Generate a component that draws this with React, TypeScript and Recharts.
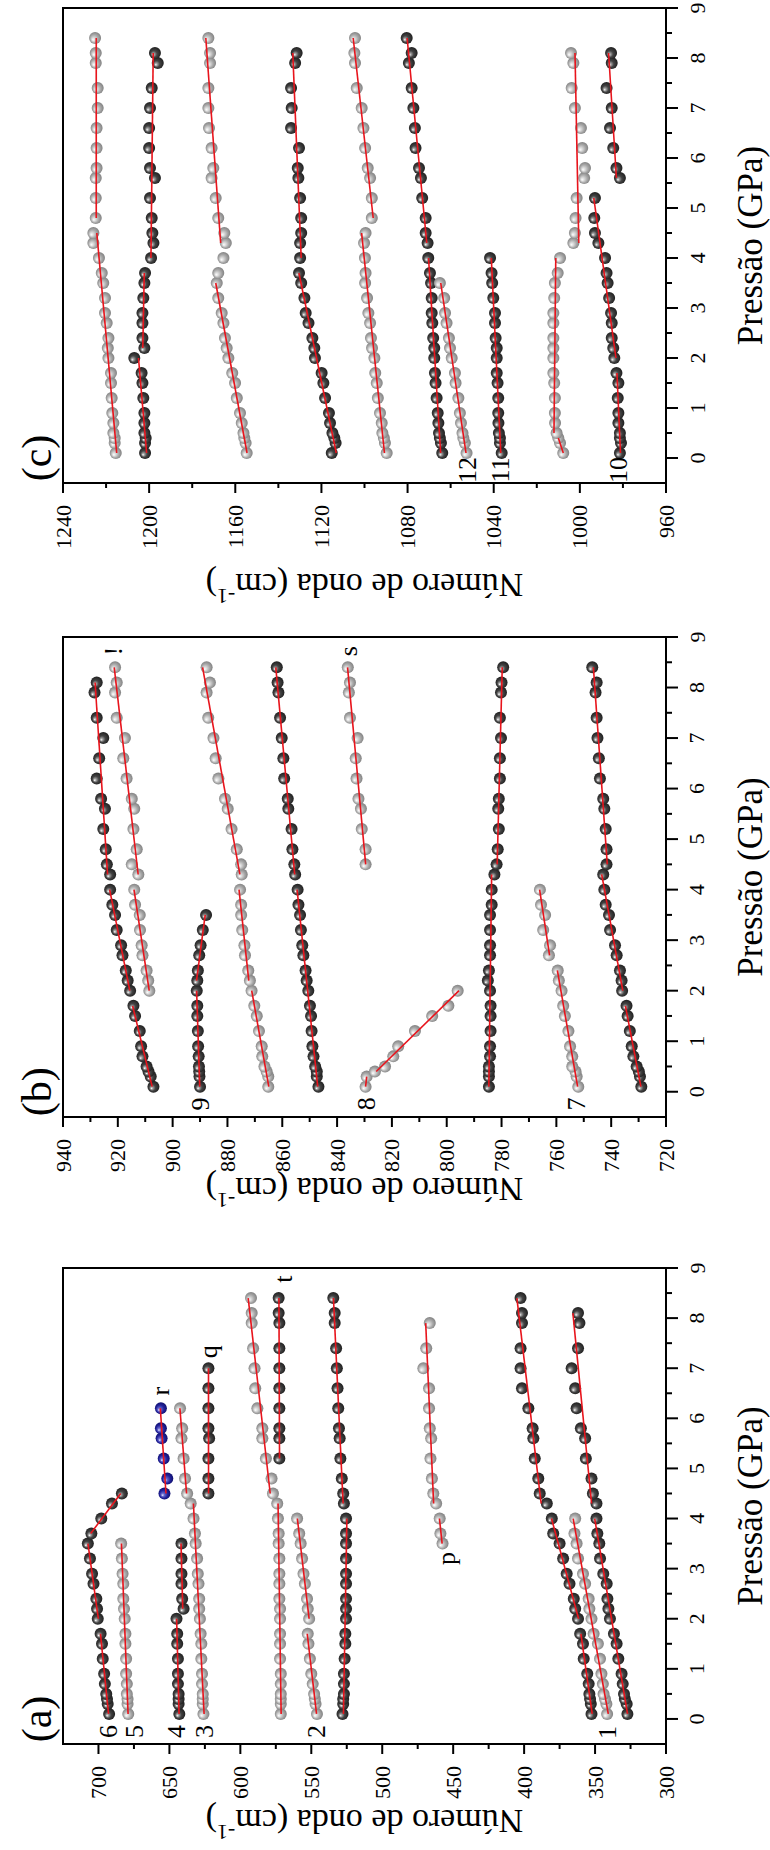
import React from "react";
import { ScatterChart, Scatter, XAxis, YAxis, ReferenceArea } from "recharts";

// pressure steps of the run (GPa), shared by every mode
const P = [0.1, 0.3, 0.4, 0.5, 0.7, 0.9, 1.2, 1.5, 1.7, 2.0, 2.2, 2.4, 2.7, 2.9, 3.2, 3.5, 3.7, 4.0, 4.3, 4.5, 4.8, 5.2, 5.6, 5.8, 6.2, 6.6, 7.0, 7.4, 7.9, 8.1, 8.4];

// ---- panel (a) wavenumbers, cm-1
const a6lo = [692.5, 693.5, 694, 694.5, 695.5, 696, 697, 697.5, 698.5];
const a6mid = [700.5, 701, 701.5, 703.5, 704.5, 706, 707.5];
const a6hi = [705, 698, 690.5, 683.5];
const a5 = [679, 679.5, 679.5, 680, 680, 680.5, 680.5, 681, 681, 681.5, 682, 682.5, 682.5, 683, 683.5, 684];
const a4lo = [643, 643.5, 643.5, 643.5, 644, 644, 644, 644.5, 644.5, 645];
const a4hi = [640, 641, 641.5, 641.5, 641.5, 641.5];
const a3lo = [626, 626.5, 626.5, 626.5, 627, 627, 627.5, 627.5, 628, 628.5, 629, 629, 629.5, 630, 630.5, 631.5, 632, 633, 635];
const a3hi = [637.5, 639, 640, 641.5, 641, 642.5];
const ar = [653.5, 651.5, 654, 655.5, 656, 656];
const aq = [622.5, 622.5, 622.5, 622, 622.5, 622.5, 622.5, 622.5];
const a575lo = [571.5, 571.5, 571.5, 571.5, 571.5, 571.5, 572, 572, 572, 572, 572, 572.5, 572.5, 572.5, 572.5, 573, 573, 573.5, 574];
const a575hi = [577, 578, 582, 584.5, 584.5, 588, 589.5, 590, 591, 592, 592, 592.5];
const at = [572.5, 572.5, 572.5, 572.5, 572.5, 572.5, 572.5, 572.5, 573, 573];
const a527lo = [528, 527.5, 527.5, 527, 527, 527, 526.5, 526, 526, 525.5, 525.5, 525.5, 525.5, 525.5, 525.5, 525.5, 525.5, 525.5];
const a527hi = [527, 527.5, 528.5, 529.5, 530, 530.5, 531, 531.5, 532, 532.5, 533.5, 533.5, 534.5];
const a2lo = [546, 547, 547.5, 548, 549, 550, 551, 552, 552.5];
const a2hi = [551.5, 552.5, 553, 554.5, 555.5, 556.5, 557.5, 558.5, 560];
const aplo = [457.5, 459, 459.5];
const aphi = [462, 464, 465, 466, 465.5, 466.5, 467, 467, 471, 469, 466.5];
const a400hi = [384, 389, 390, 392.5, 393.5, 394, 397, 401.5, 402.5, 402.5, 401.5, 401.5, 402.5];
const a360lo1 = [352.5, 353, 353.5, 354, 354.5, 355.5, 358, 358.5, 360.5];
const a360lo2 = [362, 364, 365, 368, 370, 372.5, 375, 379.5, 380.5];
const a345 = [341.5, 342, 343, 344, 344.5, 345.5, 346.5, 348, 351, 352.5, 354, 354.5, 357, 358.5, 362, 363, 364.5, 364];
const a330lo = [327.2, 327.7, 329, 329.6, 330.5, 331.3, 333.6, 334.8, 336.7, 339.5, 340.6, 341.3, 341.8, 344.2, 346.5, 347, 348.4, 349];
const a330hi = [349, 351.5, 352.5, 356.5, 357, 360, 363, 364, 366.5, 362, 361, 362];

// ---- panel (b)
const b907lo = [907, 908, 908.8, 909.5, 911, 911.5, 912, 913.7, 914.3];
const b907mid = [915.5, 916.4, 917.1, 918.3, 918.8, 920.4, 921, 922, 922.8];
const b907hi = [922.8, 924, 924.4, 925.3, 924.7, 926.1, 927.7, 926.8, 925.3, 927.7, 928.5, 927.7];
const b912lo = [908.5, 908.9, 909.5, 911, 911.3, 911.9, 912, 913.7, 914];
const b912hi = [912.5, 914.9, 913.1, 914.3, 914, 914.9, 916.8, 918, 917.4, 920.4, 921, 920.4, 921];
const b890lo = [890, 890.2, 890.3, 890.4, 890.5, 890.7, 890.8, 891, 891, 891.2];
const b890hi = [891, 890.8, 890.3, 889.8, 889, 887.8];
const b865lo = [865.1, 865.1, 865.7, 866.5, 867.3, 867.5, 868.5, 869.3, 870.2, 871.2];
const b865mid = [871.8, 872.4, 873.6, 873.8, 874.6, 875, 875, 875.4];
const b865hi = [874.8, 875, 876.6, 878.5, 879.9, 880.9, 883.3, 884.3, 885.1, 887, 887.6, 886.4, 887.6];
const b846lo = [846.8, 847.4, 847.4, 848, 848.6, 849, 849.3, 849.5, 849.9, 850.5, 851.1, 851.5, 852.3, 852.7, 853.2, 853.5, 854.1, 854.4];
const b846hi = [855.3, 855.6, 856.3, 856.6, 857.8, 858, 859.3, 859.6, 860.2, 860.8, 861.4, 861.7, 862];
const bs = [829.6, 829.6, 831, 831.3, 832.2, 832.9, 833.2, 832.5, 835.3, 835.7, 835.3, 836.1];
const b8a = [829.6, 829.2];
const b8b = [826.2, 822.5, 819.5, 817.7, 811.6, 805.3, 799.4, 796];
const b782lo = [784.6, 784.6, 784.6, 784.6, 784.2, 784.2, 784, 784, 784, 784.2, 785, 784.6, 784.2, 784.2, 784.2, 784.2, 783.6, 783.6, 782.6];
const b782hi = [781.8, 781.4, 781, 781.2, 781, 780.6, 780.6, 780.2, 780.6, 780.2, 780, 779.4];
const b7lo = [752, 752.6, 753, 754.2, 754.2, 755, 755.6, 756.9, 757.5, 758.1, 759.1, 759.5];
const b7hi = [762.7, 762.3, 764.8, 764.1, 765.6, 766];
const b729lo = [729, 729.5, 729.9, 730.7, 731.9, 732.5, 733.2, 734, 734.4];
const b729mid = [736, 736.2, 736.8, 738, 738.6, 740.4, 740.8, 742, 742.5, 742.9];
const b729hi = [741.7, 741.7, 742, 742.5, 742.9, 744.1, 744.5, 745, 745.3, 745.7, 745.3, 746.9];

// ---- panel (c)
const c1215lo = [1215.5, 1216, 1216, 1216.6, 1216.6, 1217.1, 1217.4, 1217.7, 1217.7, 1218.9, 1219.2, 1218.9, 1219.7, 1220.5, 1220.5, 1221.3, 1222, 1223.3, 1225.9, 1225.9];
const c1215hi = [1224.8, 1224.8, 1224.8, 1224.4, 1224.4, 1224.4, 1223.9, 1223.9, 1224.8, 1224.8, 1225.1];
const c1200a = [1201.9, 1201.9, 1201.6, 1202.2, 1202.2, 1202.2, 1202.7, 1203.1, 1203.5, 1206.9];
const c1200b = [1202.2, 1203.1, 1203.1, 1203.1, 1202.7, 1202.2, 1201.9];
const c1200c = [1199.1, 1198, 1198.5, 1198.8, 1199.6, 1197.3, 1199.6, 1200, 1200, 1199.6, 1198.8, 1196, 1197.3];
const c1160lo = [1154.7, 1155.2, 1155.8, 1156.2, 1157, 1157.8, 1159.3, 1160.1, 1161.4, 1163.2, 1164, 1164.8, 1165.5, 1166.3, 1167.9, 1168.6];
const c1160x = [1167.9, 1165.5];
const c1160hi = [1164.4, 1165.1, 1167.9, 1169.1, 1171, 1170.2, 1171, 1172.2, 1172.5, 1172.5, 1171.7, 1171.7, 1172.5];
const c1115lo = [1115.2, 1113.4, 1114, 1114.9, 1116, 1116.5, 1118.3, 1119.1, 1119.9, 1123, 1123.3, 1124.2, 1126, 1127.3, 1127.9, 1129.4, 1130.4];
const c1115hi = [1129.9, 1129.9, 1129.4, 1129.4, 1129.9, 1130.7, 1131, 1130.4, 1134.1, 1133.8, 1134.1, 1132.2, 1131.5];
const c1090lo = [1089.7, 1090.5, 1091, 1091.7, 1092, 1092.8, 1093.8, 1094.3, 1095, 1095.4, 1096.5, 1097, 1097.4, 1098.2, 1098.8, 1099.7, 1099.5, 1099.8, 1100.2, 1099.5];
const c1090hi = [1096.6, 1096.6, 1097.4, 1098.5, 1099.7, 1100.5, 1101.3, 1103.6, 1104.4, 1104.7, 1104.4];
const c1070lo = [1063.9, 1064.5, 1065, 1065.4, 1065.7, 1066, 1066.5, 1067, 1067.3, 1067.6, 1067.6, 1068.1, 1068.5, 1068.8, 1068.8, 1069.1, 1069.6, 1070.4];
const c1070hi = [1070.7, 1071.6, 1071.6, 1073.2, 1073.8, 1074.7, 1076.3, 1076.6, 1077.3, 1078.1, 1079.4, 1078.1, 1080.4];
const c12 = [1052.6, 1053.4, 1054.1, 1054.5, 1055.2, 1055.7, 1056.4, 1057.7, 1058, 1059.5, 1060.3, 1060.8, 1061.9, 1062.6, 1063, 1065];
const c11 = [1036.3, 1037.1, 1037.1, 1037.6, 1037.8, 1037.9, 1037.9, 1038.2, 1038.6, 1038.6, 1038.6, 1039.1, 1039.4, 1039.4, 1040.2, 1040.7, 1041, 1041.7];
const c1008a = [1007.7, 1009.2, 1010];
const c1008b = [1010.8, 1011.5, 1011.6, 1011.6, 1011.9, 1012.3, 1012.3, 1012.3, 1012.3, 1012.3, 1012.3, 1011.9, 1011.6, 1010.3, 1009.2];
const c1000 = [1003, 1002.3, 1002, 1001.5, 998, 997.6, 998.9, 999.5, 1002.3, 1003.8, 1003, 1004.1];
const c10lo = [981.4, 980.9, 981.4, 981.4, 982.1, 982.1, 982.4, 982.1, 983];
const c10mid = [984, 984.5, 985.2, 985.2, 985.5, 986.4, 987.1, 987.6, 988.3, 991.4, 993, 993.3, 993];
const c10hi = [981.4, 983, 984.5, 986, 985.2, 987.6, 985.2, 985.5];

// mode labels: text, wavenumber, pressure
const notesA = [["6", 693, -0.25], ["5", 674.5, -0.25], ["4", 645, -0.25], ["3", 625, -0.25], ["2", 546, -0.25], ["1", 341, -0.27], ["p", 454.5, 3.2], ["q", 622.5, 7.33], ["r", 656.5, 6.54], ["t", 569.5, 8.78]];
const notesB = [["9", 890, -0.24], ["8", 829.2, -0.24], ["7", 752.5, -0.24], ["s", 835.8, 8.72], ["!", 921.6, 8.72]];
const notesC = [["12", 1052, -0.24], ["11", 1037, -0.24], ["10", 982, -0.24]];

type Tone = "dark" | "light" | "blue";
type Seg = [number, number[], Tone, boolean?];

const segsA: Seg[] = [
  [0, a6lo, "dark"], [9, a6mid, "dark"], [16, a6hi, "dark"], [0, a5, "light"],
  [0, a4lo, "dark"], [10, a4hi, "dark"], [0, a3lo, "light"], [19, a3hi, "light"],
  [19, ar, "blue"], [19, aq, "dark"], [0, a575lo, "light"], [19, a575hi, "light"],
  [21, at, "dark"], [0, a527lo, "dark"], [18, a527hi, "dark"], [0, a2lo, "light"],
  [9, a2hi, "light"], [15, aplo, "light"], [18, aphi, "light"], [18, a400hi, "dark"],
  [0, a360lo1, "dark"], [9, a360lo2, "dark"], [0, a345, "light"], [0, a330lo, "dark"], [18, a330hi, "dark"],
];
const segsB: Seg[] = [
  [0, b907lo, "dark"], [9, b907mid, "dark"], [18, b907hi, "dark"], [9, b912lo, "light"], [18, b912hi, "light"],
  [0, b890lo, "dark"], [10, b890hi, "dark"], [0, b865lo, "light"], [10, b865mid, "light"], [18, b865hi, "light"],
  [0, b846lo, "dark"], [18, b846hi, "dark"], [19, bs, "light"], [0, b8a, "light"], [2, b8b, "light"],
  [0, b782lo, "dark"], [19, b782hi, "dark"], [0, b7lo, "light"], [12, b7hi, "light"],
  [0, b729lo, "dark"], [9, b729mid, "dark"], [19, b729hi, "dark"],
];
const segsC: Seg[] = [
  [0, c1215lo, "light"], [20, c1215hi, "light"], [0, c1200a, "dark"], [10, c1200b, "dark"], [17, c1200c, "dark"],
  [0, c1160lo, "light"], [16, c1160x, "light", false], [18, c1160hi, "light"], [0, c1115lo, "dark"], [17, c1115hi, "dark"],
  [0, c1090lo, "light"], [20, c1090hi, "light"], [0, c1070lo, "dark"], [18, c1070hi, "dark"], [0, c12, "light"],
  [0, c11, "dark"], [0, c1008a, "light"], [3, c1008b, "light"], [18, c1000, "light"],
  [0, c10lo, "dark"], [9, c10mid, "dark"], [22, c10hi, "dark"],
];

const FONT = "'Liberation Serif', 'Times New Roman', serif";
const LEFT = 63;
const RIGHT = 666;
const P_TICKS = [0, 0.5, 1, 1.5, 2, 2.5, 3, 3.5, 4, 4.5, 5, 5.5, 6, 6.5, 7, 7.5, 8, 8.5, 9];

const toPoints = (s: Seg) => s[1].map((w, i) => ({ p: P[s[0] + i], w }));

// least-squares straight line through one segment, drawn over its pressure span
const fitEnds = (pts: { p: number; w: number }[]) => {
  const n = pts.length;
  const mp = pts.reduce((a, d) => a + d.p, 0) / n;
  const mw = pts.reduce((a, d) => a + d.w, 0) / n;
  let sxy = 0, sxx = 0;
  pts.forEach((d) => { sxy += (d.p - mp) * (d.w - mw); sxx += (d.p - mp) ** 2; });
  const b = sxx ? sxy / sxx : 0;
  const p0 = pts[0].p, p1 = pts[n - 1].p;
  return [{ p: p0, w: mw + b * (p0 - mp) }, { p: p1, w: mw + b * (p1 - mp) }];
};

const Sphere = (props: any) => {
  const { cx, cy, tone } = props;
  if (cx == null || cy == null) return <g />;
  return <circle cx={cx} cy={cy} r={6} fill={`url(#sph-${tone})`} />;
};

const Note = (props: any) => {
  const { cx, cy, payload } = props;
  if (cx == null || cy == null) return <g />;
  return (
    <text x={cx} y={cy} transform={`rotate(-90 ${cx} ${cy})`} textAnchor="middle" dominantBaseline="central"
      fontSize={26} fontFamily={FONT} fill="#000">
      {payload.t}
    </text>
  );
};

interface PanelProps {
  top: number;
  height: number;
  mt: number;
  xh: number;
  titleOff: number;
  domain: [number, number];
  majors: number[];
  minors: number[];
  segs: Seg[];
  notes: (string | number)[][];
  letter: string;
}

const Panel: React.FC<PanelProps> = ({ top, height, mt, xh, titleOff, domain, majors, minors, segs, notes, letter }) => {
  const bottom = height - xh;
  const plotH = bottom - mt;
  const yZero = mt + (9 / 9.5) * plotH;
  const noteData = notes.map((n) => ({ t: n[0], w: n[1], p: n[2] }));

  const xTick = (props: any) => {
    const v = props.payload.value;
    const x = typeof props.payload.coordinate === "number" ? props.payload.coordinate : props.x;
    const major = majors.includes(v);
    const ty = bottom + 22;
    return (
      <g>
        <line x1={x} x2={x} y1={bottom} y2={bottom + (major ? 10 : 5)} stroke="#000" strokeWidth={2} />
        {major && (
          <text x={x} y={ty} transform={`rotate(-90 ${x} ${ty})`} textAnchor="end" dominantBaseline="central"
            fontSize={22} fontFamily={FONT} fill="#000">
            {v}
          </text>
        )}
      </g>
    );
  };

  const yTick = (props: any) => {
    const v = props.payload.value;
    const y = typeof props.payload.coordinate === "number" ? props.payload.coordinate : props.y;
    const major = Math.abs(v - Math.round(v)) < 1e-6;
    const tx = RIGHT + 31;
    return (
      <g>
        <line x1={RIGHT} x2={RIGHT + (major ? 12 : 6)} y1={y} y2={y} stroke="#000" strokeWidth={2} />
        {major && (
          <text x={tx} y={y} transform={`rotate(-90 ${tx} ${y})`} textAnchor="middle" dominantBaseline="central"
            fontSize={22} fontFamily={FONT} fill="#000">
            {v}
          </text>
        )}
      </g>
    );
  };

  const cxT = (LEFT + RIGHT) / 2;
  const cyT = bottom + titleOff;
  const xLabel = () => (
    <g>
      <text x={cxT} y={cyT} transform={`rotate(180 ${cxT} ${cyT})`} textAnchor="middle" dominantBaseline="central"
        fontSize={34} fontFamily={FONT} fill="#000">
        Número de onda (cm<tspan dy={-12} fontSize={22}>-1</tspan><tspan dy={12}>)</tspan>
      </text>
      <text x={37} y={yZero} transform={`rotate(-90 37 ${yZero})`} textAnchor="middle" dominantBaseline="central"
        fontSize={42} fontFamily={FONT} fill="#000">
        {letter}
      </text>
    </g>
  );

  const pyT = (mt + bottom) / 2;
  const yLabel = () => (
    <text x={750} y={pyT} transform={`rotate(-90 750 ${pyT})`} textAnchor="middle" dominantBaseline="central"
      fontSize={35} fontFamily={FONT} fill="#000">
      Pressão (GPa)
    </text>
  );

  return (
    <div style={{ position: "absolute", left: 0, top }}>
      <ScatterChart width={770} height={height} margin={{ top: mt, right: 0, bottom: 0, left: LEFT }}>
        <XAxis type="number" dataKey="w" domain={domain} reversed allowDataOverflow ticks={[...majors, ...minors]}
          interval={0} height={xh} axisLine={false} tickLine={false} tick={xTick} label={{ content: xLabel }} />
        <YAxis type="number" dataKey="p" orientation="right" width={104} domain={[-0.5, 9]} allowDataOverflow
          ticks={P_TICKS} interval={0} axisLine={false} tickLine={false} tick={yTick} label={{ content: yLabel }} />
        <ReferenceArea x1={domain[0]} x2={domain[1]} y1={-0.5} y2={9} fill="none" fillOpacity={0}
          stroke="#000" strokeWidth={2} ifOverflow="visible" />
        {segs.map((s, i) => (
          <Scatter key={`pt${i}`} data={toPoints(s)} isAnimationActive={false}
            shape={(p: any) => <Sphere {...p} tone={s[2]} />} />
        ))}
        {segs.filter((s) => s[3] !== false && s[1].length > 1).map((s, i) => (
          <Scatter key={`fit${i}`} data={fitEnds(toPoints(s))} isAnimationActive={false}
            line={{ stroke: "#e8141c", strokeWidth: 1.6 }} shape={() => <g />} />
        ))}
        <Scatter data={noteData} isAnimationActive={false} shape={(p: any) => <Note {...p} />} />
      </ScatterChart>
    </div>
  );
};

const range = (a: number, b: number, s: number) => {
  const out: number[] = [];
  for (let v = a; v <= b + 1e-9; v += s) out.push(Math.round(v * 10) / 10);
  return out;
};

export default function App() {
  return (
    <div style={{ position: "absolute", left: 0, top: 0, width: 770, height: 1850, background: "#fff", overflow: "hidden" }}>
      <svg width={0} height={0} style={{ position: "absolute" }}>
        <defs>
          <radialGradient id="sph-dark" cx="50%" cy="50%" r="55%" fx="32%" fy="66%">
            <stop offset="0%" stopColor="#ffffff" />
            <stop offset="20%" stopColor="#9c9c9c" />
            <stop offset="48%" stopColor="#444444" />
            <stop offset="100%" stopColor="#1a1a1a" />
          </radialGradient>
          <radialGradient id="sph-light" cx="50%" cy="50%" r="55%" fx="32%" fy="66%">
            <stop offset="0%" stopColor="#ffffff" />
            <stop offset="25%" stopColor="#dcdcdc" />
            <stop offset="60%" stopColor="#a8a8a8" />
            <stop offset="100%" stopColor="#7a7a7a" />
          </radialGradient>
          <radialGradient id="sph-blue" cx="50%" cy="50%" r="55%" fx="32%" fy="66%">
            <stop offset="0%" stopColor="#e0e0ff" />
            <stop offset="25%" stopColor="#6464cc" />
            <stop offset="60%" stopColor="#22229a" />
            <stop offset="100%" stopColor="#0c0c66" />
          </radialGradient>
        </defs>
      </svg>
      <Panel top={0} height={610} mt={8} xh={127} titleOff={102} domain={[960, 1240]}
        majors={range(960, 1240, 40)} minors={range(980, 1220, 40)} segs={segsC} notes={notesC} letter="(c)" />
      <Panel top={610} height={630} mt={27} xh={123} titleOff={72} domain={[720, 940]}
        majors={range(720, 940, 20)} minors={range(730, 930, 20)} segs={segsB} notes={notesB} letter="(b)" />
      <Panel top={1240} height={610} mt={28} xh={106} titleOff={77} domain={[300, 725]}
        majors={range(300, 700, 50)} minors={range(325, 675, 50)} segs={segsA} notes={notesA} letter="(a)" />
    </div>
  );
}
